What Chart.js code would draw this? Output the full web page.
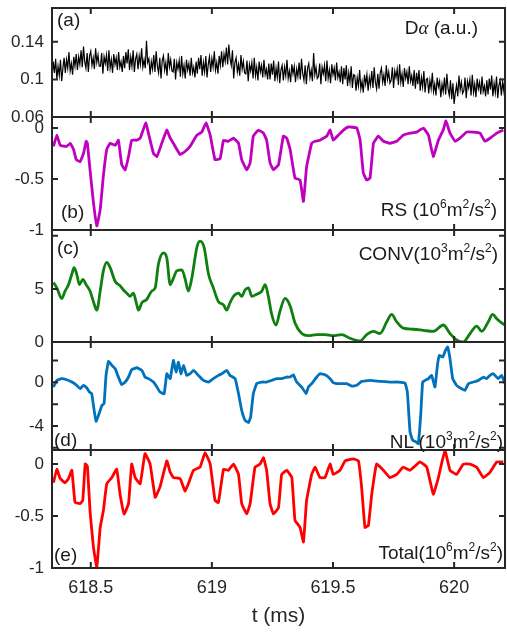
<!DOCTYPE html>
<html>
<head>
<meta charset="utf-8">
<script src="https://cdn.jsdelivr.net/npm/chart.js@4.4.0/dist/chart.umd.min.js"></script>
<style>
    body { margin: 0; background: #fff; }
    #wrap { position: relative; width: 507px; height: 633px; overflow: hidden; font-family: "Liberation Sans", Arial, sans-serif; }
    #wrap canvas { position: absolute; left: 0; }
    .lbl { position: absolute; font-size: 19px; line-height: 20px; color: #1a1a1a; white-space: nowrap; }
    .lbl .sp { font-size: 12px; position: relative; top: -8px; }
    .greek { font-family: "Liberation Serif", serif; font-style: italic; }
</style>
</head>
<body>
<div id="wrap">
    <canvas id="cA" width="507" height="133" style="top:-4px"></canvas>
    <canvas id="cB" width="507" height="137" style="top:105px"></canvas>
    <canvas id="cC" width="507" height="136" style="top:218px"></canvas>
    <canvas id="cD" width="507" height="132" style="top:330px"></canvas>
    <canvas id="cE" width="507" height="195" style="top:438px"></canvas>

    <div class="lbl" style="left:57px; top:10px">(a)</div>
    <div class="lbl" style="right:29px; top:18px">D<span class="greek">α</span> (a.u.)</div>
    <div class="lbl" style="left:61px; top:202px">(b)</div>
    <div class="lbl" style="right:10px; top:200px">RS (10<span class="sp">6</span>m<span class="sp">2</span>/s<span class="sp">2</span>)</div>
    <div class="lbl" style="left:57px; top:238px">(c)</div>
    <div class="lbl" style="right:9px; top:244px">CONV(10<span class="sp">3</span>m<span class="sp">2</span>/s<span class="sp">2</span>)</div>
    <div class="lbl" style="left:54px; top:430px">(d)</div>
    <div class="lbl" style="right:4px; top:432px">NL (10<span class="sp">3</span>m<span class="sp">2</span>/s<span class="sp">2</span>)</div>
    <div class="lbl" style="left:54px; top:545px">(e)</div>
    <div class="lbl" style="right:4px; top:543px">Total(10<span class="sp">6</span>m<span class="sp">2</span>/s<span class="sp">2</span>)</div>
</div>
<script>
// shared time axis (ms)
const tMin = 618.34;
const tMax = 620.21;
const xTicks = [618.5, 619, 619.5, 620];

// (a) D-alpha, sampled every 0.005 ms from tMin
const daStep = 0.005;
const daValues = [
    0.102, 0.119, 0.107, 0.122, 0.100, 0.114, 0.104, 0.121, 0.098, 0.112, 0.123, 0.107, 0.121, 0.112, 0.129, 0.109, 0.117, 0.105, 0.124, 0.114,
    0.127, 0.110, 0.124, 0.116, 0.131, 0.113, 0.135, 0.119, 0.112, 0.128, 0.108, 0.125, 0.130, 0.115, 0.123, 0.111, 0.133, 0.118, 0.126, 0.114,
    0.114, 0.128, 0.106, 0.124, 0.117, 0.126, 0.109, 0.131, 0.112, 0.121, 0.107, 0.127, 0.116, 0.123, 0.110, 0.129, 0.113, 0.119, 0.108, 0.125,
    0.112, 0.129, 0.117, 0.132, 0.110, 0.124, 0.114, 0.131, 0.108, 0.122, 0.127, 0.111, 0.125, 0.116, 0.133, 0.113, 0.121, 0.112, 0.141, 0.118,
    0.122, 0.105, 0.119, 0.111, 0.126, 0.108, 0.130, 0.114, 0.107, 0.123, 0.101, 0.120, 0.125, 0.110, 0.118, 0.104, 0.128, 0.113, 0.121, 0.109,
    0.108, 0.122, 0.100, 0.118, 0.111, 0.120, 0.103, 0.125, 0.106, 0.115, 0.101, 0.121, 0.110, 0.117, 0.104, 0.123, 0.107, 0.113, 0.102, 0.119,
    0.106, 0.123, 0.111, 0.126, 0.104, 0.118, 0.108, 0.125, 0.102, 0.116, 0.124, 0.108, 0.122, 0.113, 0.130, 0.110, 0.118, 0.106, 0.125, 0.115,
    0.130, 0.113, 0.127, 0.119, 0.134, 0.116, 0.137, 0.122, 0.115, 0.131, 0.101, 0.118, 0.123, 0.108, 0.116, 0.104, 0.126, 0.111, 0.119, 0.107,
    0.106, 0.120, 0.098, 0.116, 0.109, 0.118, 0.101, 0.123, 0.104, 0.113, 0.099, 0.119, 0.108, 0.115, 0.102, 0.121, 0.105, 0.111, 0.100, 0.117,
    0.100, 0.117, 0.105, 0.120, 0.098, 0.112, 0.102, 0.119, 0.096, 0.110, 0.115, 0.099, 0.113, 0.104, 0.121, 0.101, 0.109, 0.097, 0.116, 0.106,
    0.114, 0.097, 0.111, 0.103, 0.118, 0.100, 0.122, 0.106, 0.099, 0.115, 0.095, 0.112, 0.117, 0.102, 0.110, 0.098, 0.128, 0.105, 0.113, 0.101,
    0.103, 0.117, 0.095, 0.113, 0.106, 0.115, 0.098, 0.120, 0.101, 0.110, 0.096, 0.116, 0.105, 0.112, 0.099, 0.118, 0.102, 0.108, 0.097, 0.114,
    0.095, 0.112, 0.100, 0.115, 0.093, 0.107, 0.097, 0.114, 0.091, 0.105, 0.104, 0.088, 0.102, 0.093, 0.110, 0.090, 0.098, 0.086, 0.105, 0.095,
    0.105, 0.088, 0.102, 0.094, 0.109, 0.091, 0.113, 0.097, 0.090, 0.106, 0.090, 0.107, 0.112, 0.097, 0.105, 0.093, 0.115, 0.100, 0.108, 0.096,
    0.099, 0.113, 0.091, 0.109, 0.102, 0.111, 0.094, 0.116, 0.097, 0.106, 0.092, 0.112, 0.101, 0.108, 0.095, 0.114, 0.098, 0.104, 0.093, 0.110,
    0.090, 0.107, 0.095, 0.110, 0.088, 0.102, 0.092, 0.109, 0.086, 0.100, 0.101, 0.085, 0.099, 0.090, 0.107, 0.087, 0.095, 0.083, 0.102, 0.092,
    0.098, 0.081, 0.095, 0.087, 0.102, 0.084, 0.106, 0.090, 0.083, 0.099, 0.079, 0.096, 0.074, 0.086, 0.094, 0.082, 0.104, 0.089, 0.097, 0.085,
    0.088, 0.102, 0.080, 0.098, 0.091, 0.100, 0.083, 0.105, 0.086, 0.095, 0.081, 0.101, 0.090, 0.097, 0.084, 0.103, 0.087, 0.093, 0.082, 0.099,
    0.084, 0.101, 0.089, 0.104, 0.082, 0.096, 0.086, 0.103, 0.080, 0.094, 0.099, 0.083, 0.097, 0.088, 0.105
];

// (b) Reynolds stress, 10^6 m^2/s^2
const rsTime = [
    618.346, 618.360, 618.374, 618.401, 618.415, 618.429, 618.440, 618.456, 618.470, 618.481,
    618.486, 618.497, 618.511, 618.525, 618.539, 618.552, 618.566, 618.580, 618.601, 618.614,
    618.628, 618.642, 618.656, 618.669, 618.690, 618.704, 618.727, 618.738, 618.759, 618.773,
    618.793, 618.814, 618.828, 618.841, 618.869, 618.889, 618.910, 618.938, 618.958, 618.976,
    618.993, 619.013, 619.034, 619.048, 619.068, 619.089, 619.110, 619.123, 619.144, 619.158,
    619.171, 619.192, 619.213, 619.226, 619.240, 619.254, 619.275, 619.295, 619.309, 619.323,
    619.343, 619.364, 619.378, 619.391, 619.412, 619.426, 619.446, 619.474, 619.488, 619.501,
    619.522, 619.543, 619.563, 619.598, 619.612, 619.625, 619.639, 619.653, 619.667, 619.687,
    619.708, 619.735, 619.763, 619.790, 619.818, 619.845, 619.873, 619.894, 619.914, 619.935,
    619.955, 619.966, 619.983, 620.004, 620.024, 620.052, 620.079, 620.107, 620.127, 620.148,
    620.176, 620.203
];
const rsValues = [
    -0.18, -0.07, -0.17, -0.18, -0.15, -0.21, -0.31, -0.33, -0.25, -0.13,
    -0.15, -0.41, -0.73, -0.96, -0.80, -0.47, -0.21, -0.15, -0.17, -0.12,
    -0.36, -0.41, -0.28, -0.12, -0.12, -0.10, 0.05, -0.05, -0.25, -0.28,
    -0.15, -0.02, -0.10, -0.15, -0.26, -0.23, -0.18, -0.07, -0.04, 0.05,
    -0.07, -0.31, -0.30, -0.12, -0.13, -0.10, -0.15, -0.31, -0.41, -0.34,
    -0.08, -0.02, -0.05, -0.12, -0.34, -0.41, -0.36, -0.08, -0.10, -0.21,
    -0.49, -0.51, -0.72, -0.38, -0.15, -0.13, -0.12, -0.08, -0.02, -0.12,
    -0.07, -0.02, 0.01, 0.00, -0.12, -0.44, -0.51, -0.49, -0.15, -0.08,
    -0.13, -0.15, -0.13, -0.07, -0.05, -0.04, 0.00, -0.07, -0.28, -0.12,
    -0.02, 0.07, -0.05, -0.13, -0.10, -0.04, -0.04, -0.05, -0.13, -0.10,
    -0.05, -0.02
];

// (c) convection term, 10^3 m^2/s^2
const convTime = [
    618.346, 618.360, 618.380, 618.394, 618.408, 618.422, 618.431, 618.442, 618.453, 618.467,
    618.481, 618.497, 618.511, 618.525, 618.539, 618.552, 618.566, 618.580, 618.601, 618.621,
    618.635, 618.649, 618.662, 618.676, 618.690, 618.697, 618.711, 618.731, 618.752, 618.766,
    618.779, 618.800, 618.814, 618.828, 618.841, 618.855, 618.876, 618.889, 618.903, 618.917,
    618.938, 618.951, 618.968, 618.986, 619.006, 619.027, 619.048, 619.061, 619.075, 619.089,
    619.110, 619.123, 619.137, 619.151, 619.165, 619.185, 619.206, 619.220, 619.233, 619.247,
    619.265, 619.281, 619.302, 619.323, 619.343, 619.371, 619.398, 619.433, 619.467, 619.501,
    619.536, 619.570, 619.612, 619.639, 619.667, 619.694, 619.722, 619.742, 619.763, 619.790,
    619.832, 619.873, 619.914, 619.955, 619.983, 620.010, 620.038, 620.066, 620.093, 620.114,
    620.141, 620.159, 620.176, 620.196, 620.210
];
const convValues = [
    5.6, 5.1, 4.1, 4.8, 5.4, 6.4, 7.0, 6.4, 5.4, 5.9,
    5.4, 4.8, 3.8, 3.0, 4.8, 6.7, 7.5, 7.0, 5.7, 5.3,
    4.9, 4.6, 4.3, 4.6, 3.5, 3.0, 3.7, 4.0, 4.8, 5.1,
    7.3, 8.4, 7.9, 5.4, 6.0, 6.7, 6.8, 6.0, 4.8, 6.0,
    8.9, 9.5, 8.9, 6.4, 5.1, 3.8, 3.5, 3.0, 3.7, 4.3,
    4.6, 4.3, 4.9, 5.1, 4.3, 4.5, 4.8, 5.4, 4.3, 2.6,
    1.6, 2.9, 4.1, 3.4, 1.8, 0.8, 0.6, 0.7, 0.7, 0.6,
    0.7, 0.35, 0.1, 0.7, 1.0, 0.8, 1.9, 2.6, 1.9, 1.3,
    1.2, 1.1, 1.0, 1.6, 0.8, 0.2, 0.0, 0.8, 1.5, 1.0,
    1.9, 2.6, 2.2, 1.8, 1.6
];

// (d) nonlinear term, 10^3 m^2/s^2
const nlTime = [
    618.346, 618.360, 618.380, 618.401, 618.422, 618.442, 618.456, 618.470, 618.484, 618.495,
    618.504, 618.515, 618.522, 618.532, 618.546, 618.555, 618.563, 618.573, 618.587, 618.601,
    618.614, 618.628, 618.642, 618.656, 618.669, 618.690, 618.711, 618.724, 618.738, 618.759,
    618.773, 618.786, 618.803, 618.814, 618.828, 618.841, 618.852, 618.862, 618.872, 618.883,
    618.896, 618.910, 618.924, 618.944, 618.965, 618.986, 619.006, 619.027, 619.041, 619.061,
    619.075, 619.096, 619.110, 619.123, 619.137, 619.151, 619.160, 619.171, 619.185, 619.206,
    619.226, 619.247, 619.268, 619.288, 619.309, 619.323, 619.336, 619.350, 619.371, 619.389,
    619.398, 619.412, 619.433, 619.446, 619.467, 619.488, 619.501, 619.529, 619.556, 619.577,
    619.598, 619.618, 619.653, 619.694, 619.735, 619.770, 619.797, 619.807, 619.818, 619.829,
    619.843, 619.852, 619.862, 619.870, 619.880, 619.894, 619.907, 619.921, 619.931, 619.939,
    619.953, 619.964, 619.973, 619.983, 619.994, 620.010, 620.031, 620.045, 620.059, 620.079,
    620.100, 620.121, 620.134, 620.148, 620.162, 620.182, 620.196, 620.210
];
const nlValues = [
    -0.43, 0.18, 0.34, 0.24, 0.03, -0.27, -0.58, -0.27, -0.52, -0.89,
    -1.04, -2.72, -3.57, -3.02, -2.11, -1.95, 0.64, 1.92, 1.56, 1.25,
    0.49, -0.21, 0.03, 0.49, 1.16, 1.34, 1.10, 0.49, 0.34, 0.03,
    -0.43, -0.89, -1.04, 0.79, 0.34, 2.02, 0.95, 1.86, 0.79, 1.56,
    0.64, 0.79, 1.10, 0.64, 0.18, 0.03, 0.34, 0.64, 0.79, 1.10,
    0.64, 0.34, -1.04, -2.56, -3.48, -3.69, -3.18, -1.04, -0.12, 0.03,
    0.03, 0.18, 0.34, 0.34, 0.49, 0.49, 0.70, 0.03, -0.43, -1.04,
    -0.43, -0.12, 0.49, 0.79, 0.70, 0.34, -0.03, -0.12, -0.12, -0.34,
    -0.27, 0.09, 0.18, 0.09, 0.03, 0.03, -0.06, -0.89, -4.55, -5.31,
    -5.47, -5.62, -3.02, 0.03, 0.18, 0.34, 0.64, -0.43, 1.56, 2.47,
    2.32, 2.93, 3.24, 2.17, 0.34, -0.27, -0.58, -0.73, -0.12, 0.03,
    0.18, 0.49, 0.34, 0.64, 0.79, 0.34, 0.64, -0.12
];

// (e) total, 10^6 m^2/s^2
const totalTime = [
    618.346, 618.360, 618.374, 618.394, 618.408, 618.422, 618.435, 618.456, 618.467, 618.477,
    618.486, 618.497, 618.511, 618.525, 618.539, 618.552, 618.566, 618.587, 618.607, 618.621,
    618.638, 618.656, 618.669, 618.683, 618.704, 618.724, 618.745, 618.766, 618.786, 618.814,
    618.828, 618.841, 618.869, 618.889, 618.903, 618.924, 618.951, 618.972, 618.993, 619.013,
    619.027, 619.048, 619.068, 619.089, 619.110, 619.123, 619.144, 619.158, 619.178, 619.199,
    619.213, 619.226, 619.240, 619.254, 619.275, 619.288, 619.309, 619.330, 619.343, 619.364,
    619.378, 619.391, 619.412, 619.426, 619.446, 619.467, 619.488, 619.501, 619.529, 619.550,
    619.584, 619.605, 619.618, 619.632, 619.646, 619.660, 619.680, 619.708, 619.735, 619.763,
    619.790, 619.818, 619.859, 619.887, 619.914, 619.935, 619.962, 619.983, 620.010, 620.038,
    620.066, 620.093, 620.121, 620.148, 620.176, 620.203
];
const totalValues = [
    -0.18, -0.05, -0.14, -0.18, -0.14, -0.06, -0.37, -0.38, -0.35, 0.00,
    -0.02, -0.45, -0.80, -0.99, -0.61, -0.45, -0.19, -0.13, -0.05, -0.29,
    -0.48, -0.38, 0.00, -0.13, -0.19, 0.10, 0.00, -0.32, -0.22, 0.03,
    -0.08, -0.13, -0.14, -0.26, -0.19, -0.06, -0.03, 0.11, 0.00, -0.35,
    -0.37, -0.05, -0.06, 0.00, -0.10, -0.38, -0.48, -0.38, -0.03, 0.00,
    0.06, -0.06, -0.38, -0.48, -0.42, -0.10, -0.06, -0.13, -0.54, -0.61,
    -0.75, -0.35, -0.10, -0.03, -0.13, -0.13, 0.00, -0.10, -0.06, 0.03,
    0.05, 0.03, -0.22, -0.61, -0.59, -0.29, 0.00, -0.06, -0.13, -0.10,
    -0.03, -0.06, 0.02, -0.03, -0.29, -0.13, 0.13, -0.06, -0.10, 0.00,
    0.00, -0.03, -0.13, -0.08, 0.02, 0.02
];

// y ranges, tick marks and which ticks get a label
const daRange = [0.06, 0.176];
const daTicks = [0.06, 0.08, 0.1, 0.12, 0.14, 0.16];
const daLabels = [0.06, 0.1, 0.14];
const rsRange = [-1, 0.108];
const rsTicks = [-1, -0.5, 0];
const convRange = [0, 10.55];
const convTicks = [0, 5, 10];
const convLabels = [0, 5];
const nlRange = [-6.2, 3.7];
const nlTicks = [-6, -4, -2, 0, 2];
const nlLabels = [-4, 0];
const totalRange = [-1, 0.135];
const totalTicks = [-1, -0.5, 0];

const axisColor = '#262626';
const fontFamily = '"Liberation Sans", Arial, sans-serif';

function pairs(xs, ys) {
    return xs.map((x, i) => ({ x: x, y: ys[i] }));
}

// frame with inward ticks on all four sides, like the original figure
const framePlugin = {
    id: 'frame',
    afterDatasetsDraw(chart) {
        const { ctx, chartArea: a, scales } = chart;
        ctx.save();
        ctx.strokeStyle = axisColor;
        ctx.lineWidth = 2;
        ctx.strokeRect(a.left, a.top, a.right - a.left, a.bottom - a.top);
        ctx.beginPath();
        xTicks.forEach(v => {
            const x = scales.x.getPixelForValue(v);
            ctx.moveTo(x, a.top); ctx.lineTo(x, a.top + 6);
            ctx.moveTo(x, a.bottom); ctx.lineTo(x, a.bottom - 6);
        });
        scales.y.ticks.forEach(t => {
            const y = scales.y.getPixelForValue(t.value);
            ctx.moveTo(a.left, y); ctx.lineTo(a.left + 6, y);
            ctx.moveTo(a.right, y); ctx.lineTo(a.right - 6, y);
        });
        ctx.stroke();
        ctx.restore();
    }
};

function makePanel(canvasId, opts) {
    const bottomAxis = !!opts.bottomAxis;
    const xScale = bottomAxis ? {
        type: 'linear', min: tMin, max: tMax,
        afterBuildTicks: s => { s.ticks = xTicks.map(v => ({ value: v })); },
        afterFit: s => { s.height = 65; s.paddingLeft = 0; s.paddingRight = 0; },
        grid: { display: false, drawTicks: false }, border: { display: false },
        ticks: { color: axisColor, padding: 9, maxRotation: 0, font: { size: 18, family: fontFamily },
                 callback: v => String(v) },
        title: { display: true, text: 't (ms)', color: axisColor,
                 font: { size: 21, family: fontFamily }, padding: { top: 0, bottom: 4 } }
    } : { type: 'linear', min: tMin, max: tMax, display: false };

    const labels = opts.labels || opts.ticks;
    return new Chart(document.getElementById(canvasId), {
        type: 'line',
        data: {
            datasets: [{
                data: opts.data,
                borderColor: opts.color,
                borderWidth: opts.width,
                pointRadius: 0,
                tension: opts.tension || 0,
                cubicInterpolationMode: opts.monotone ? 'monotone' : 'default',
                fill: false
            }]
        },
        options: {
            responsive: false,
            animation: false,
            events: [],
            layout: { padding: { top: 12, bottom: bottomAxis ? 0 : 12, left: 0, right: 2 } },
            plugins: { legend: { display: false }, tooltip: { enabled: false } },
            scales: {
                x: xScale,
                y: {
                    min: opts.range[0], max: opts.range[1],
                    afterBuildTicks: s => { s.ticks = opts.ticks.map(v => ({ value: v })); },
                    afterFit: s => { s.width = 52; s.paddingTop = 0; s.paddingBottom = 0; },
                    grid: { display: false, drawTicks: false }, border: { display: false },
                    ticks: {
                        color: axisColor, padding: 8,
                        font: { size: 17, family: fontFamily },
                        callback: v => labels.some(l => Math.abs(l - v) < 1e-9) ? String(v) : ''
                    }
                }
            }
        },
        plugins: [framePlugin]
    });
}

makePanel('cA', {
    data: daValues.map((v, i) => ({ x: tMin + i * daStep, y: v })),
    color: '#000000', width: 1.2, range: daRange, ticks: daTicks, labels: daLabels
});
makePanel('cB', {
    data: pairs(rsTime, rsValues), color: '#bf00bf', width: 2.8, tension: 0.1,
    range: rsRange, ticks: rsTicks
});
makePanel('cC', {
    data: pairs(convTime, convValues), color: '#0f7f0f', width: 2.8, monotone: true,
    range: convRange, ticks: convTicks, labels: convLabels
});
makePanel('cD', {
    data: pairs(nlTime, nlValues), color: '#0072bd', width: 2.8, tension: 0.1,
    range: nlRange, ticks: nlTicks, labels: nlLabels
});
makePanel('cE', {
    data: pairs(totalTime, totalValues), color: '#ff0000', width: 2.8, tension: 0.1,
    range: totalRange, ticks: totalTicks, bottomAxis: true
});
</script>
</body>
</html>
